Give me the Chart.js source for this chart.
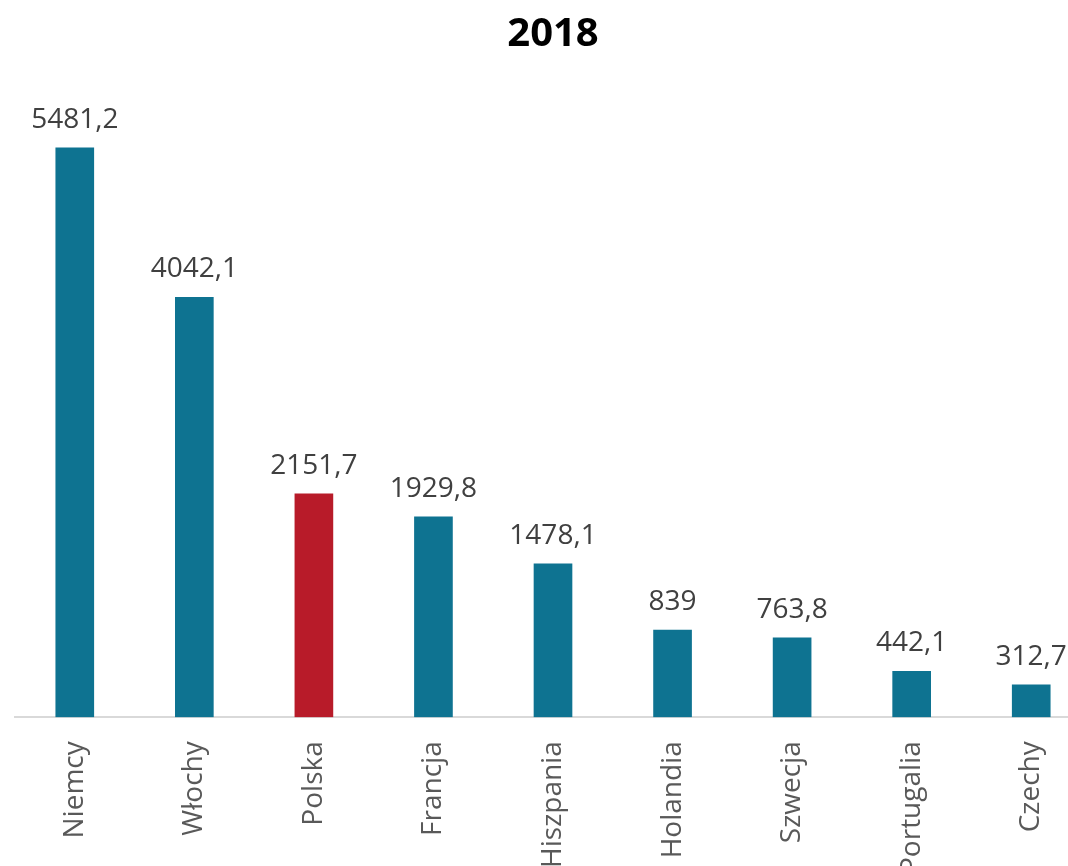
<!DOCTYPE html>
<html>
<head>
<meta charset="utf-8">
<script src="https://cdn.jsdelivr.net/npm/chart.js@4/dist/chart.umd.min.js"></script>
<style>
  html, body { margin: 0; padding: 0; background: #fff; overflow: hidden; }
</style>
</head>
<body>
<canvas id="chart" width="1106" height="890"></canvas>
<script>
const title = '2018';
const countries = ['Niemcy', 'Włochy', 'Polska', 'Francja', 'Hiszpania', 'Holandia', 'Szwecja', 'Portugalia', 'Czechy'];
const values = [5481.2, 4042.1, 2151.7, 1929.8, 1478.1, 839, 763.8, 442.1, 312.7];
const highlight = 'Polska';

const barColor = '#0E7391';
const highlightColor = '#B81B29';

// draws the value above every bar, polish decimal comma
const valueLabels = {
  id: 'valueLabels',
  afterDatasetsDraw(chart) {
    const ctx = chart.ctx;
    const meta = chart.getDatasetMeta(0);
    ctx.save();
    ctx.font = '28px "Open Sans"';
    ctx.fillStyle = '#404040';
    ctx.textAlign = 'center';
    ctx.textBaseline = 'alphabetic';
    meta.data.forEach((bar, i) => {
      const text = String(values[i]).replace('.', ',');
      ctx.fillText(text, bar.x, bar.y - 20);
    });
    ctx.restore();
  }
};

new Chart(document.getElementById('chart'), {
  type: 'bar',
  data: {
    labels: countries,
    datasets: [{
      data: values,
      backgroundColor: countries.map(c => c === highlight ? highlightColor : barColor),
      barThickness: 38
    }]
  },
  options: {
    responsive: false,
    animation: false,
    layout: { padding: { left: 15, right: 15, top: 0, bottom: 0 } },
    plugins: {
      legend: { display: false },
      tooltip: { enabled: false },
      title: {
        display: true,
        text: title,
        color: '#000',
        font: { family: '"Open Sans"', size: 40, weight: 'bold' },
        padding: { top: 11, bottom: 35 }
      }
    },
    scales: {
      x: {
        grid: { display: false },
        border: { color: '#d9d9d9', width: 2 },
        ticks: {
          minRotation: 90,
          maxRotation: 90,
          padding: 16,
          color: '#595959',
          font: { family: '"Open Sans"', size: 28 }
        }
      },
      y: {
        display: false,
        min: 0,
        max: 6000
      }
    }
  },
  plugins: [valueLabels]
});
</script>
</body>
</html>
